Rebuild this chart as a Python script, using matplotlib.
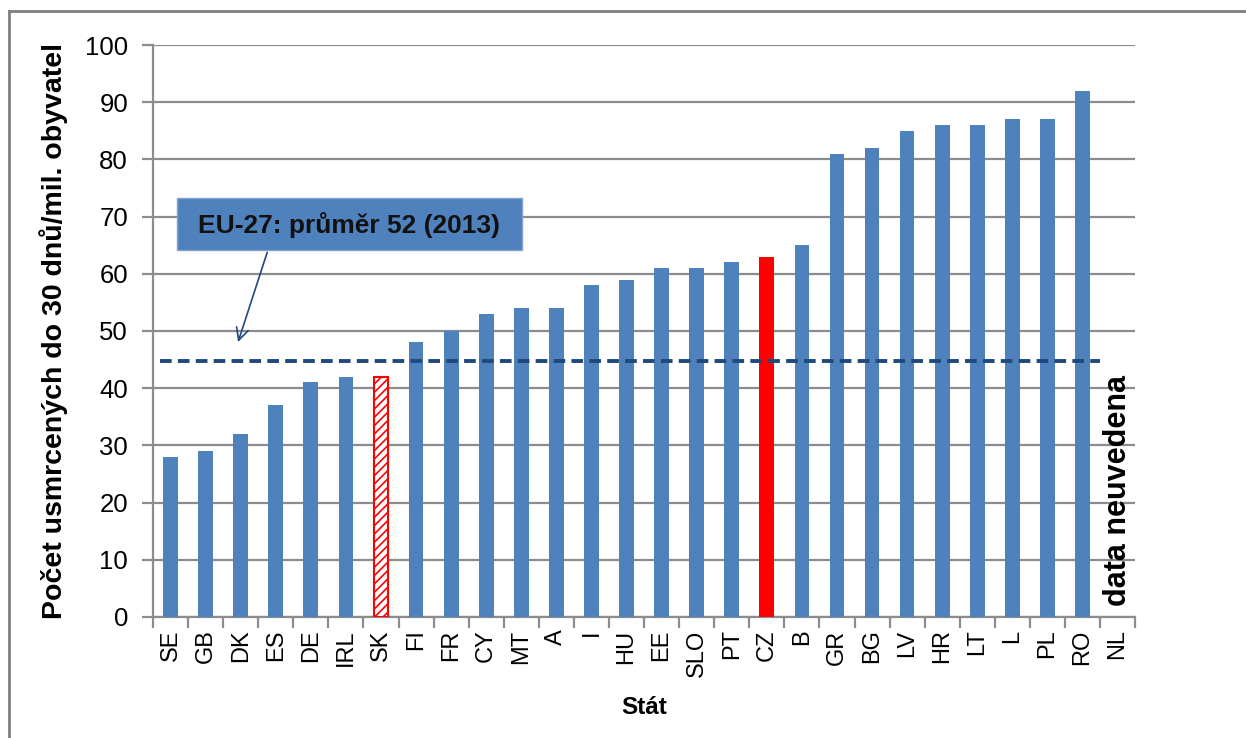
import matplotlib
matplotlib.use("Agg")
import matplotlib.pyplot as plt
from matplotlib.patches import Rectangle
from matplotlib.lines import Line2D
import numpy as np

plt.rcParams['font.family'] = ['Liberation Sans', 'DejaVu Sans']
plt.rcParams['hatch.color'] = '#FF0000'
plt.rcParams['hatch.linewidth'] = 1.2

countries = ["SE", "GB", "DK", "ES", "DE", "IRL", "SK", "FI", "FR", "CY", "MT", "A", "I",
             "HU", "EE", "SLO", "PT", "CZ", "B", "GR", "BG", "LV", "HR", "LT", "L", "PL", "RO", "NL"]
values = [28, 29, 32, 37, 41, 42, 42, 48, 50, 53, 54, 54, 58,
          59, 61, 61, 62, 63, 65, 81, 82, 85, 86, 86, 87, 87, 92, np.nan]
eu_line = 44.8
yticks = [0, 10, 20, 30, 40, 50, 60, 70, 80, 90, 100]

BLUE = '#4F81BD'
GRID = '#8C8C8C'

fig = plt.figure(figsize=(12.46, 7.38), dpi=100)
ax = fig.add_axes([0.1228, 0.164, 0.7882, 0.775])

x = np.arange(len(countries))
for i, (c, v) in enumerate(zip(countries, values)):
    if np.isnan(v):
        continue
    if c == "SK":
        ax.bar(i, v, width=0.42, color='white', edgecolor='#FF0000', hatch='////',
               linewidth=1.5, zorder=3)
    elif c == "CZ":
        ax.bar(i, v, width=0.42, color='#FF0000', zorder=3)
    else:
        ax.bar(i, v, width=0.42, color=BLUE, zorder=3)

ax.set_xlim(-0.5, len(countries) - 0.5)
ax.set_ylim(0, 100)
ax.set_yticks(yticks)
ax.yaxis.grid(True, color=GRID, linewidth=1.6, zorder=0)
ax.set_axisbelow(True)

ax.set_xticks(np.arange(len(countries) + 1) - 0.5)
ax.set_xticklabels([])
ax.set_xticks(x, minor=True)
ax.set_xticklabels(countries, minor=True, rotation=90, fontsize=17)
ax.tick_params(axis='x', which='major', length=8, width=1.6, color=GRID, direction='out')
ax.tick_params(axis='x', which='minor', length=0, pad=9)
ax.tick_params(axis='y', length=8, width=1.6, color=GRID, labelsize=18.5, pad=10)

for s in ['top', 'right']:
    ax.spines[s].set_visible(False)
for s in ['left', 'bottom']:
    ax.spines[s].set_color(GRID)
    ax.spines[s].set_linewidth(1.6)

ax.set_ylabel("Počet usmrcených do 30 dnů/mil. obyvatel", fontsize=20.5, fontweight='bold', labelpad=12)
ax.set_xlabel("Stát", fontsize=17.5, fontweight='bold', labelpad=14)

# EU average dashed line
ax.plot([-0.3, 26.5], [eu_line, eu_line], color='#1F497D', linewidth=2.8,
        linestyle=(0, (3.0, 1.6)), zorder=4)

# annotation box
ax.add_patch(Rectangle((0.18, 64.2), 9.84, 9.05, facecolor=BLUE, edgecolor='#7FA3D0',
                       linewidth=1, zorder=5))
ax.text(5.1, 68.6, "EU-27: průměr 52 (2013)", fontsize=19, fontweight='bold',
        ha='center', va='center', color='#111111', zorder=6)
ax.annotate("", xy=(1.9, 47.6), xytext=(2.78, 64.2),
            arrowprops=dict(arrowstyle='->', color='#1F497D', lw=1.2,
                            mutation_scale=22), zorder=6)

# NL: no data
ax.text(27, 2, "data neuvedena", rotation=90, fontsize=22, fontweight='bold',
        ha='center', va='bottom', zorder=6)

# outer frame (left and top edges)
fig.add_artist(Line2D([9 / 1246, 9 / 1246], [0, 1 - 11 / 738], transform=fig.transFigure,
                      color='#7F7F7F', linewidth=2))
fig.add_artist(Line2D([9 / 1246, 1], [1 - 11 / 738, 1 - 11 / 738], transform=fig.transFigure,
                      color='#7F7F7F', linewidth=2))

fig.savefig("out.png", dpi=100)
